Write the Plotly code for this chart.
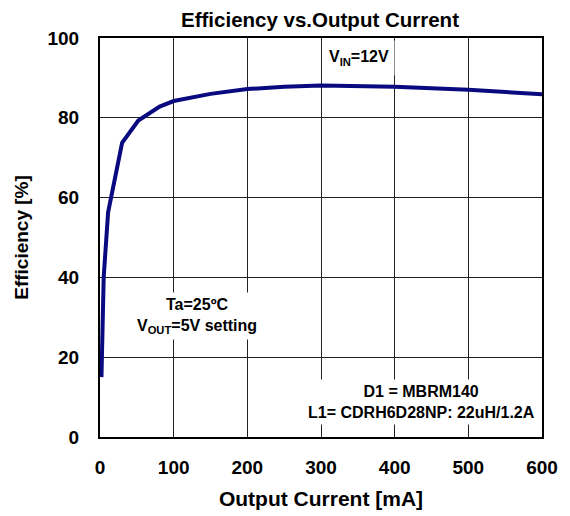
import plotly.graph_objects as go

current_ma = [2, 5, 11, 30, 52, 81, 100, 150, 200, 250, 300, 400, 500, 600]
efficiency = [15, 40, 56.3, 73.7, 79.3, 82.8, 84.2, 86.0, 87.2, 87.8, 88.1, 87.8, 87.0, 85.9]
x_ticks = [0, 100, 200, 300, 400, 500, 600]
y_ticks = [0, 20, 40, 60, 80, 100]

FONT = "Liberation Sans, Arial, sans-serif"

fig = go.Figure()
fig.add_trace(go.Scatter(
    x=current_ma, y=efficiency, mode="lines",
    line=dict(color="#0a0a80", width=4),
    showlegend=False,
))

fig.update_layout(
    width=570, height=516,
    margin=dict(l=90, r=36, t=30, b=87),
    paper_bgcolor="white", plot_bgcolor="white",
    font=dict(family=FONT, color="black", size=16),
    title=dict(text="<b>Efficiency vs.Output Current</b>", x=312 / 570, xanchor="center",
               y=1 - 12 / 516, yanchor="middle", font=dict(size=20.5)),
)
fig.update_xaxes(
    range=[0, 600], tickvals=x_ticks, ticktext=[f"<b>{v}</b>" for v in x_ticks],
    showgrid=True, gridcolor="#222222", gridwidth=1,
    showline=True, linecolor="black", linewidth=2, mirror=True,
    zeroline=False, ticks="", ticklabelstandoff=12,
    title=dict(text="<b>Output Current [mA]</b>", standoff=15, font=dict(size=21)),
    tickfont=dict(size=19),
)
fig.update_yaxes(
    range=[0, 100], tickvals=y_ticks, ticktext=[f"<b>{v}</b>" for v in y_ticks],
    showgrid=True, gridcolor="#222222", gridwidth=1,
    showline=True, linecolor="black", linewidth=2, mirror=True,
    zeroline=False, ticks="", ticklabelstandoff=15,
    title=dict(text="<b>Efficiency [%]</b>", standoff=14, font=dict(size=19)),
    tickfont=dict(size=19),
)

fig.add_annotation(x=351, y=95, xref="x", yref="y",
                   text="<b>V<sub>IN</sub>=12V</b>", showarrow=False,
                   font=dict(size=16), bgcolor="white", borderpad=1,
                   width=68, height=32)
fig.add_annotation(x=132, y=30.3, xref="x", yref="y",
                   text="<b>Ta=25ºC<br>V<sub>OUT</sub>=5V setting</b>", showarrow=False,
                   font=dict(size=16), bgcolor="white", borderpad=3)
fig.add_annotation(x=437, y=8.8, xref="x", yref="y",
                   text="<b>D1 = MBRM140<br>L1= CDRH6D28NP: 22uH/1.2A</b>", showarrow=False,
                   font=dict(size=16), bgcolor="white", borderpad=3)

fig.write_html("out.html")
